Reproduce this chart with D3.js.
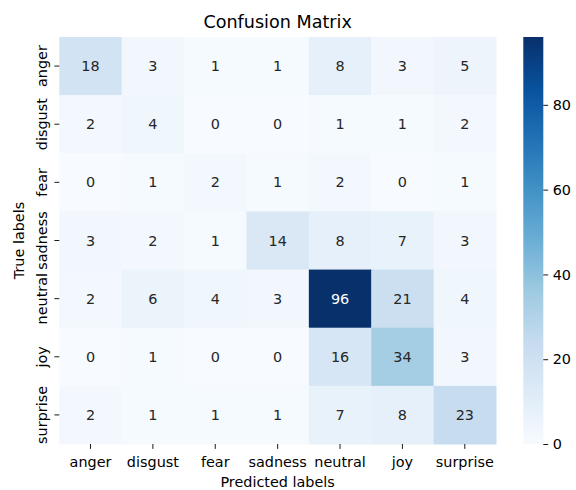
<!DOCTYPE html>
<html>
<head>
<meta charset="utf-8">
<script src="https://cdn.jsdelivr.net/npm/d3@7"></script>
<style>
  html, body { margin: 0; padding: 0; background: #fff; }
  svg { display: block; font-family: "DejaVu Sans", sans-serif; }
</style>
</head>
<body>
<svg id="chart" width="576" height="490"></svg>
<script>
// Emotion classes (true = rows, predicted = columns)
const labels = ["anger", "disgust", "fear", "sadness", "neutral", "joy", "surprise"];
// Confusion counts, one array per true class
const rowAnger    = [18, 3, 1, 1, 8, 3, 5];
const rowDisgust  = [2, 4, 0, 0, 1, 1, 2];
const rowFear     = [0, 1, 2, 1, 2, 0, 1];
const rowSadness  = [3, 2, 1, 14, 8, 7, 3];
const rowNeutral  = [2, 6, 4, 3, 96, 21, 4];
const rowJoy      = [0, 1, 0, 0, 16, 34, 3];
const rowSurprise = [2, 1, 1, 1, 7, 8, 23];
const matrix = [rowAnger, rowDisgust, rowFear, rowSadness, rowNeutral, rowJoy, rowSurprise];
const colorbarTicks = [0, 20, 40, 60, 80];

// "Blues" colour map stops
const bluesStops = ["#f7fbff", "#deebf7", "#c6dbef", "#9ecae1", "#6baed6",
                    "#4292c6", "#2171b5", "#08519c", "#08306b"];

const svg = d3.select("#chart");
const plot = { left: 59.3, right: 496, top: 37, bottom: 444 };
const cbar = { left: 523.3, right: 543.3 };

const flat = matrix.flat();
const vmin = d3.min(flat), vmax = d3.max(flat);

const x = d3.scaleBand().domain(labels).range([plot.left, plot.right]).padding(0);
const y = d3.scaleBand().domain(labels).range([plot.top, plot.bottom]).padding(0);
const color = d3.scaleLinear()
  .domain(bluesStops.map((_, i) => vmin + (vmax - vmin) * i / (bluesStops.length - 1)))
  .range(bluesStops)
  .clamp(true);

function luminance(c) {
  const rgb = d3.rgb(c);
  const lin = v => { v /= 255; return v <= 0.03928 ? v / 12.92 : Math.pow((v + 0.055) / 1.055, 2.4); };
  return 0.2126 * lin(rgb.r) + 0.7152 * lin(rgb.g) + 0.0722 * lin(rgb.b);
}

const cells = [];
matrix.forEach((row, i) => row.forEach((v, j) => cells.push({ t: labels[i], p: labels[j], v })));

// Heatmap cells
svg.append("g").selectAll("rect").data(cells).join("rect")
  .attr("x", d => x(d.p))
  .attr("y", d => y(d.t))
  .attr("width", x.bandwidth() + 0.5)
  .attr("height", y.bandwidth() + 0.5)
  .attr("fill", d => color(d.v));

// Cell annotations
svg.append("g").selectAll("text").data(cells).join("text")
  .attr("x", d => x(d.p) + x.bandwidth() / 2)
  .attr("y", d => y(d.t) + y.bandwidth() / 2)
  .attr("text-anchor", "middle")
  .attr("dominant-baseline", "central")
  .attr("font-size", "14.4px")
  .attr("fill", d => luminance(color(d.v)) > 0.408 ? "#262626" : "#ffffff")
  .text(d => d.v);

// X axis (predicted)
const xAxis = svg.append("g")
  .attr("transform", `translate(0,${plot.bottom})`)
  .call(d3.axisBottom(x).tickSize(4.9).tickPadding(3.5));
xAxis.select(".domain").remove();
xAxis.selectAll("text").attr("font-size", "14.4px").attr("fill", "#000")
  .attr("font-family", "DejaVu Sans").attr("dy", null).attr("y", 22.5);
xAxis.selectAll("line").attr("stroke", "#000").attr("stroke-width", 0.9);

// Y axis (true)
const yAxis = svg.append("g")
  .attr("transform", `translate(${plot.left},0)`)
  .call(d3.axisLeft(y).tickSize(4.9).tickPadding(3.5));
yAxis.select(".domain").remove();
yAxis.selectAll("line").attr("stroke", "#000").attr("stroke-width", 0.9);
yAxis.selectAll("text")
  .attr("font-size", "14.4px").attr("fill", "#000").attr("font-family", "DejaVu Sans")
  .attr("x", null).attr("dy", null)
  .attr("text-anchor", "middle")
  .attr("transform", "translate(-12.5,0) rotate(-90)");

// Colorbar
const cScale = d3.scaleLinear().domain([vmin, vmax]).range([plot.bottom, plot.top]);
const grad = svg.append("defs").append("linearGradient")
  .attr("id", "cbarGrad").attr("x1", 0).attr("y1", 1).attr("x2", 0).attr("y2", 0);
grad.selectAll("stop").data(bluesStops).join("stop")
  .attr("offset", (_, i) => i / (bluesStops.length - 1))
  .attr("stop-color", d => d);
svg.append("rect")
  .attr("x", cbar.left).attr("y", plot.top)
  .attr("width", cbar.right - cbar.left).attr("height", plot.bottom - plot.top)
  .attr("fill", "url(#cbarGrad)");
const cAxis = svg.append("g")
  .attr("transform", `translate(${cbar.right},0)`)
  .call(d3.axisRight(cScale).tickValues(colorbarTicks).tickSize(4.9).tickPadding(4.5));
cAxis.select(".domain").remove();
cAxis.selectAll("line").attr("stroke", "#000").attr("stroke-width", 0.9);
cAxis.selectAll("text").attr("font-size", "14.4px").attr("fill", "#000")
  .attr("font-family", "DejaVu Sans");

// Titles
const cx = (plot.left + plot.right) / 2;
svg.append("text").attr("x", cx).attr("y", 28)
  .attr("text-anchor", "middle").attr("font-size", "17.6px").attr("fill", "#000")
  .text("Confusion Matrix");
svg.append("text").attr("x", cx).attr("y", 486.5)
  .attr("text-anchor", "middle").attr("font-size", "14.4px").attr("fill", "#000")
  .text("Predicted labels");
svg.append("text")
  .attr("transform", `translate(24,${(plot.top + plot.bottom) / 2}) rotate(-90)`)
  .attr("text-anchor", "middle").attr("font-size", "14.4px").attr("fill", "#000")
  .text("True labels");
</script>
</body>
</html>
